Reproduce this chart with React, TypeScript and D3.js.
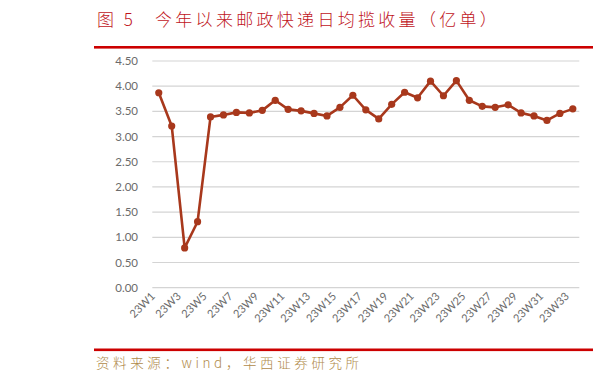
import React from "react";
import * as d3 from "d3";

const weeks: string[] = Array.from({ length: 33 }, (_, i) => `23W${i + 1}`);
const values: number[] = [
  3.87, 3.21, 0.79, 1.31, 3.39, 3.43, 3.48, 3.47, 3.52, 3.72, 3.54,
  3.51, 3.46, 3.41, 3.58, 3.82, 3.53, 3.35, 3.64, 3.88, 3.77, 4.1,
  3.81, 4.11, 3.72, 3.6, 3.58, 3.63, 3.47, 3.41, 3.32, 3.46, 3.55,
];
const yTicks: number[] = [0, 0.5, 1, 1.5, 2, 2.5, 3, 3.5, 4, 4.5];
const titleText = "图 5";
const titleText2 = "今年以来邮政快递日均揽收量（亿单）";
const sourceText = "资料来源：wind，华西证券研究所";

export default function App() {
  const W = 597, H = 381;
  const left = 152.3, right = 579.3, top = 61, bottom = 287.7;
  const x = d3.scaleBand<string>().domain(weeks).range([left, right]);
  const y = d3.scaleLinear().domain([0, 4.5]).range([bottom, top]);
  const cx = (w: string) => (x(w) as number) + x.bandwidth() / 2;
  const line = d3
    .line<number>()
    .x((_, i) => cx(weeks[i]))
    .y((d) => y(d));
  const lineColor = "#a8381c";
  const cjk = '"Noto Sans CJK SC", sans-serif';
  return (
    <svg
      width={W}
      height={H}
      style={{ position: "absolute", left: 0, top: 0, background: "#fff" }}
    >
      <text x={97} y={26} fill="#c0141c" fontSize={17} fontFamily={cjk} fontWeight={300} letterSpacing={3}>
        {titleText}
      </text>
      <text x={155} y={26} fill="#c0141c" fontSize={17} fontFamily={cjk} fontWeight={300} letterSpacing={3.3}>
        {titleText2}
      </text>
      <rect x={94} y={46} width={499} height={2.6} fill="#cc0000" />
      {yTicks.map((t) => (
        <g key={t}>
          <line x1={left} x2={right} y1={y(t)} y2={y(t)} stroke="#d4d4d4" strokeWidth={1.2} />
          <text
            x={138}
            y={y(t)}
            dy="0.35em"
            textAnchor="end"
            fill="#6b6b6b"
            fontSize={11.5}
            fontFamily="Lato, 'Open Sans', sans-serif"
          >
            {t.toFixed(2)}
          </text>
        </g>
      ))}
      {weeks.map((w, i) =>
        i % 2 === 0 ? (
          <text
            key={w}
            transform={`translate(${cx(w) - 3},${297}) rotate(-45)`}
            textAnchor="end"
            fill="#6b6b6b"
            fontSize={11}
            fontFamily="Lato, 'Open Sans', sans-serif"
          >
            {w}
          </text>
        ) : null
      )}
      <path d={line(values) || ""} fill="none" stroke={lineColor} strokeWidth={2.6} strokeLinejoin="round" />
      {values.map((v, i) => (
        <circle key={i} cx={cx(weeks[i])} cy={y(v)} r={3.6} fill={lineColor} />
      ))}
      <rect x={94} y={348.5} width={499} height={2.6} fill="#cc0000" />
      <text x={96} y={368} fill="#b08a4a" fontSize={13.5} fontFamily={cjk} fontWeight={300} letterSpacing={3.6}>
        {sourceText}
      </text>
    </svg>
  );
}
